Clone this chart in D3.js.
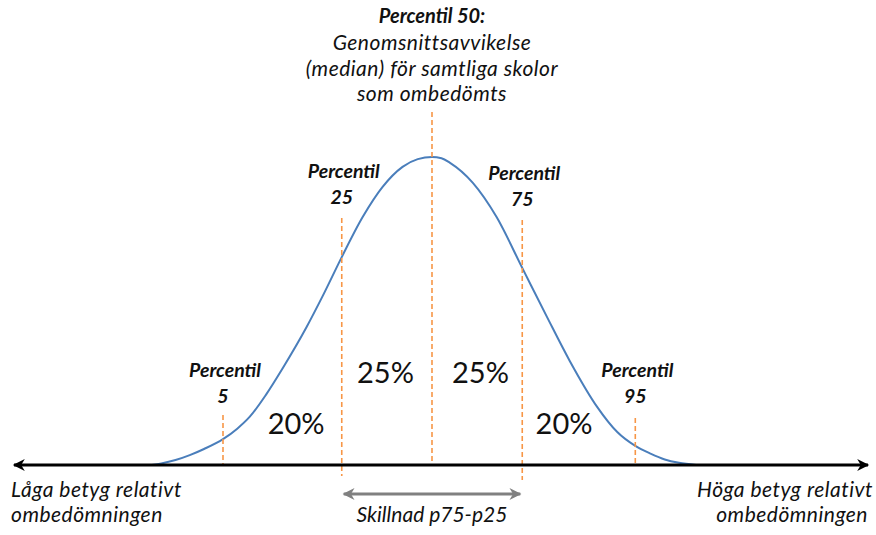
<!DOCTYPE html>
<html><head><meta charset="utf-8">
<script src="https://cdn.jsdelivr.net/npm/d3@7"></script>
<style>
html,body{margin:0;padding:0;background:#fff;}
svg{display:block;}
text{font-family:Lato,"Open Sans",sans-serif;fill:#111;}
</style></head>
<body>
<svg id="chart" width="876" height="535"></svg>
<script>
// Curve: x in standard-deviation units, y = relative density (peak = 1)
const curveX = [-2.95,-2.85,-2.70,-2.55,-2.40,-2.20,-2.05,-1.92,-1.75,-1.57,-1.32,-1.15,-0.95,-0.73,-0.52,-0.31,-0.15,0,0.10,0.19,0.43,0.68,0.95,1.21,1.45,1.74,1.95,2.14,2.30,2.45,2.60,2.78];
const curveY = [0,0.005,0.016,0.032,0.052,0.084,0.118,0.156,0.227,0.315,0.448,0.549,0.675,0.805,0.903,0.968,0.993,1,0.996,0.981,0.916,0.805,0.640,0.481,0.338,0.188,0.107,0.062,0.037,0.018,0.007,0];

// Percentile markers
const pctNames = ["5","25","50","75","95"];
const pctX = [-2.20,-0.95,0,0.95,2.14];

// Share labels between markers
const shareLabels = ["20%","25%","25%","20%"];
const shareX = [-1.43,-0.49,0.51,1.39];

const topLabel = ["Percentil 50:","Genomsnittsavvikelse","(median) för samtliga skolor","som ombedömts"];
const leftLabel = ["Låga betyg relativt","ombedömningen"];
const rightLabel = ["Höga betyg relativt","ombedömningen"];
const rangeLabel = "Skillnad p75-p25";

const svg = d3.select("#chart");
const x = d3.scaleLinear().domain([-3,3]).range([147,717]);
const y = d3.scaleLinear().domain([0,1]).range([465,157]);

const defs = svg.append("defs");
function marker(id,color,w,h){
  const m = defs.append("marker").attr("id",id).attr("viewBox","0 0 10 10")
    .attr("refX",9).attr("refY",5).attr("markerWidth",w).attr("markerHeight",h)
    .attr("markerUnits","userSpaceOnUse").attr("orient","auto-start-reverse");
  m.append("path").attr("d","M0,0 L10,5 L0,10 L3,5 Z").attr("fill",color);
}
marker("arrK","#000",14,12);
marker("arrG","#808080",13,12);

// curve
const pts = curveX.map((v,i)=>[v,curveY[i]]);
svg.append("path").datum(pts)
  .attr("d",d3.line().x(d=>x(d[0])).y(d=>y(d[1])).curve(d3.curveMonotoneX))
  .attr("fill","none").attr("stroke","#4a7ebb").attr("stroke-width",2);

// dashed percentile lines (extents are layout)
const lineTop = [415,218,112,220,418];
const lineBot = [465,476,465,480,465];
svg.selectAll("line.pct").data(pctX).join("line").attr("class","pct")
  .attr("x1",d=>x(d)).attr("x2",d=>x(d))
  .attr("y1",(d,i)=>lineTop[i]).attr("y2",(d,i)=>lineBot[i])
  .attr("stroke","#f79646").attr("stroke-width",1.6).attr("stroke-dasharray","5,3");

// axis with arrows
svg.append("line").attr("x1",14).attr("x2",868).attr("y1",465).attr("y2",465)
  .attr("stroke","#000").attr("stroke-width",3)
  .attr("marker-start","url(#arrK)").attr("marker-end","url(#arrK)");

// gray range arrow between p25 and p75
svg.append("line").attr("x1",x(pctX[1])+2).attr("x2",x(pctX[3])-2).attr("y1",494).attr("y2",494)
  .attr("stroke","#808080").attr("stroke-width",3)
  .attr("marker-start","url(#arrG)").attr("marker-end","url(#arrG)");

// top label
[23,50,76,101].forEach((b,i)=>{
  svg.append("text").attr("text-anchor","middle").attr("font-style","italic")
    .attr("x",x(0)).attr("y",b).text(topLabel[i])
    .attr("font-weight",i===0?"bold":"normal").attr("font-size",i===0?20:21)
    .attr("letter-spacing",i===0?0:0.5);
});

// percentile labels
const lblBase = [377,178,null,180,377];
pctX.forEach((v,i)=>{
  if(i===2) return;
  svg.append("text").attr("text-anchor","middle").attr("font-style","italic")
    .attr("font-weight","bold").attr("font-size",19.5)
    .attr("x",x(v)+2).attr("y",lblBase[i]).text("Percentil");
  svg.append("text").attr("text-anchor","middle").attr("font-style","italic")
    .attr("font-weight","bold").attr("font-size",19.5)
    .attr("x",x(v)).attr("y",lblBase[i]+26).text(pctNames[i]);
});

// share labels
const shareBase = [434,383,383,434];
svg.selectAll("text.share").data(shareLabels).join("text").attr("class","share")
  .attr("x",(d,i)=>x(shareX[i])).attr("y",(d,i)=>shareBase[i])
  .attr("text-anchor","middle").attr("font-size",29).text(d=>d);

// bottom labels
leftLabel.forEach((t,i)=>svg.append("text").attr("font-style","italic").attr("font-size",21)
  .attr("letter-spacing",0.5).attr("x",11).attr("y",497+i*25).text(t));
rightLabel.forEach((t,i)=>svg.append("text").attr("font-style","italic").attr("font-size",21)
  .attr("letter-spacing",0.5).attr("text-anchor","end").attr("x",[873,868][i]).attr("y",497+i*25).text(t));
svg.append("text").attr("x",x(0)).attr("y",522).attr("text-anchor","middle")
  .attr("font-style","italic").attr("font-size",21).text(rangeLabel);
</script>
</body></html>
